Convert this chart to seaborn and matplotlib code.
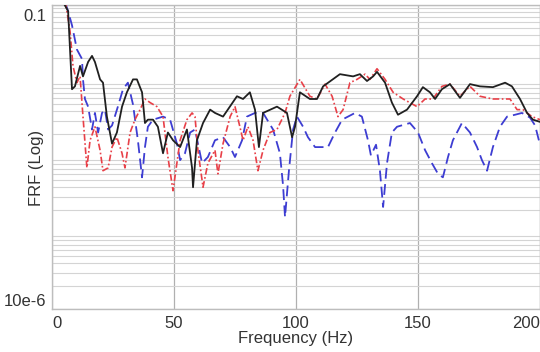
import numpy as np
import pandas as pd
import matplotlib
matplotlib.use("Agg")
import matplotlib.pyplot as plt
import matplotlib.transforms as mtransforms
import seaborn as sns

# Frequency response magnitudes for three measurement configurations
freq_solid = [4.5, 6.6, 8.2, 9.4, 11.5, 12.7, 14.8, 16.4, 17.6, 19.7, 20.9, 22.5, 24.6, 26.6,
              28.7, 30.7, 33.2, 34.8, 36.9, 38.1, 39.3, 41.4, 43.4, 45.5, 47.5, 49.6, 52.5,
              55.3, 57.4, 57.8, 59.4, 61.9, 64.8, 66.8, 70.1, 75.8, 78.3, 81.1, 83.2, 84.8,
              86.5, 92.2, 96.3, 98.4, 99.6, 101.6, 105.7, 108.6, 111.1, 118.0, 123.4, 126.2,
              129.1, 131.6, 133.2, 136.5, 139.3, 141.8, 145.5, 149.6, 152.0, 154.9, 157.0,
              159.8, 163.1, 167.2, 171.3, 175.4, 180.7, 185.7, 188.5, 191.8, 194.7, 197.1, 200.0]
frf_solid = [0.11, 0.083, 7.8e-3, 8.5e-3, 0.0158, 0.0115, 0.0178, 0.0214, 0.0178, 0.0105,
             9.5e-3, 3.4e-3, 1.5e-3, 2.1e-3, 4.6e-3, 7.1e-3, 0.0105, 0.0105, 7.1e-3, 2.8e-3,
             3.1e-3, 3.1e-3, 2.5e-3, 1.12e-3, 2.1e-3, 1.66e-3, 1.35e-3, 2.3e-3, 7.2e-4, 4.0e-4,
             1.66e-3, 2.8e-3, 4.2e-3, 3.8e-3, 3.4e-3, 6.3e-3, 5.8e-3, 7.1e-3, 4.2e-3, 1.35e-3,
             3.8e-3, 4.6e-3, 3.8e-3, 1.82e-3, 2.5e-3, 7.1e-3, 5.8e-3, 5.8e-3, 8.5e-3, 0.0123,
             0.0115, 0.0123, 0.0100, 0.0115, 0.0132, 9.5e-3, 5.2e-3, 3.6e-3, 4.2e-3, 6.3e-3,
             8.3e-3, 7.1e-3, 5.8e-3, 7.8e-3, 9.1e-3, 6.0e-3, 9.1e-3, 8.5e-3, 8.3e-3, 9.5e-3,
             8.5e-3, 5.8e-3, 3.8e-3, 3.1e-3, 2.9e-3]

freq_dashdot = [5.5, 7.4, 8.6, 10.2, 11.5, 12.7, 14.3, 15.6, 17.6, 19.7, 20.9, 23.0, 24.6,
                26.6, 28.7, 29.9, 32.0, 34.0, 36.1, 38.1, 40.2, 43.0, 45.5, 47.5, 49.6, 52.5,
                55.3, 57.4, 58.6, 59.8, 61.9, 63.9, 66.8, 68.0, 70.1, 73.0, 75.0, 77.0, 78.3,
                80.3, 82.4, 84.4, 86.5, 89.3, 92.2, 95.5, 97.5, 101.6, 105.7, 108.6, 111.9,
                114.8, 117.2, 119.3, 122.1, 125.0, 128.3, 130.3, 133.2, 136.5, 139.8, 143.9,
                149.6, 152.9, 156.1, 159.8, 163.1, 167.2, 171.3, 175.4, 180.7, 187.7, 190.6,
                193.0, 196.7, 200.0]
frf_dashdot = [0.11, 0.045, 0.0158, 9.5e-3, 0.0115, 3.4e-3, 7.2e-4, 1.66e-3, 2.5e-3, 1.23e-3,
               6.6e-4, 7.2e-4, 1.35e-3, 1.82e-3, 1.12e-3, 7.2e-4, 2.1e-3, 3.1e-3, 4.2e-3,
               5.8e-3, 5.2e-3, 4.6e-3, 3.4e-3, 1.0e-3, 3.6e-4, 1.66e-3, 3.1e-3, 3.8e-3, 3.4e-3,
               1.23e-3, 4.0e-4, 8.3e-4, 1.23e-3, 6.0e-4, 1.5e-3, 3.4e-3, 4.6e-3, 2.5e-3,
               1.66e-3, 2.5e-3, 1.66e-3, 6.6e-4, 1.23e-3, 2.1e-3, 2.3e-3, 3.8e-3, 6.3e-3,
               0.0105, 6.3e-3, 5.8e-3, 9.1e-3, 6.3e-3, 3.4e-3, 4.2e-3, 9.5e-3, 0.0105, 0.0123,
               0.0105, 0.0145, 0.0105, 7.1e-3, 5.8e-3, 4.6e-3, 5.8e-3, 5.8e-3, 8.5e-3, 9.1e-3,
               6.3e-3, 8.5e-3, 6.3e-3, 5.8e-3, 5.8e-3, 4.2e-3, 4.2e-3, 3.4e-3, 3.1e-3]

freq_dashed = [5.3, 6.6, 8.2, 10.2, 12.3, 12.7, 13.5, 14.8, 16.4, 17.6, 18.9, 20.5, 21.7,
               23.0, 24.6, 27.0, 29.1, 31.1, 33.2, 35.2, 36.9, 38.1, 39.3, 41.4, 45.5, 48.4,
               51.2, 52.5, 54.5, 56.6, 58.6, 61.5, 63.9, 66.8, 70.1, 73.0, 75.0, 77.9, 79.9,
               83.2, 86.5, 90.6, 93.4, 94.7, 95.5, 97.1, 98.8, 100.4, 102.9, 104.9, 107.8,
               110.7, 113.1, 116.0, 118.9, 124.2, 127.0, 129.5, 130.7, 132.8, 134.4, 135.7,
               137.3, 139.3, 141.4, 146.7, 150.0, 152.9, 155.7, 158.2, 160.2, 162.3, 164.3,
               168.0, 171.3, 174.2, 176.2, 178.3, 180.7, 183.6, 186.5, 189.8, 192.6, 195.9,
               198.0, 200.0]
frf_dashed = [0.11, 0.083, 0.054, 0.026, 0.0195, 0.0105, 5.8e-3, 4.6e-3, 2.3e-3, 3.8e-3,
              2.1e-3, 3.8e-3, 4.2e-3, 2.3e-3, 2.6e-3, 4.6e-3, 7.8e-3, 9.5e-3, 4.9e-3, 1.66e-3,
              5.4e-4, 1.35e-3, 2.5e-3, 3.1e-3, 3.4e-3, 3.1e-3, 1.5e-3, 9.1e-4, 1.12e-3, 2.1e-3,
              2.3e-3, 8.3e-4, 1.0e-3, 1.66e-3, 1.82e-3, 1.35e-3, 1.0e-3, 1.66e-3, 3.4e-3,
              3.8e-3, 3.8e-3, 2.3e-3, 1.12e-3, 4.2e-4, 1.62e-4, 6.6e-4, 2.3e-3, 3.4e-3, 2.5e-3,
              1.82e-3, 1.35e-3, 1.35e-3, 1.35e-3, 2.1e-3, 3.1e-3, 3.8e-3, 3.4e-3, 1.66e-3,
              1.05e-3, 1.45e-3, 6.6e-4, 2.2e-4, 8.3e-4, 2.1e-3, 2.5e-3, 2.8e-3, 2.1e-3, 1.23e-3,
              8.3e-4, 6.0e-4, 5.4e-4, 1.0e-3, 1.66e-3, 2.8e-3, 2.1e-3, 1.35e-3, 9.1e-4, 6.6e-4,
              1.35e-3, 2.5e-3, 3.4e-3, 3.6e-3, 3.8e-3, 3.3e-3, 2.6e-3, 1.45e-3]

x_ticks = [0, 50, 100, 150, 200]
y_ticks = [1e-5, 0.1]
y_tick_labels = ["10e-6", "0.1"]

sns.set_theme(style="white")
plt.rcParams["font.family"] = ["Liberation Sans", "DejaVu Sans"]

fig = plt.figure(figsize=(5.4, 3.52), dpi=100)
ax = fig.add_axes([52 / 540, 43 / 352, 488 / 540, 304 / 352])

df_solid = pd.DataFrame({"f": freq_solid, "frf": frf_solid})
df_dashdot = pd.DataFrame({"f": freq_dashdot, "frf": frf_dashdot})
df_dashed = pd.DataFrame({"f": freq_dashed, "frf": frf_dashed})

sns.lineplot(data=df_dashed, x="f", y="frf", ax=ax, color="#3d3dd2", lw=1.3,
             estimator=None, sort=False, zorder=3)
ax.lines[-1].set_dashes((6, 3))
sns.lineplot(data=df_dashdot, x="f", y="frf", ax=ax, color="#e84048", lw=1.2,
             estimator=None, sort=False, zorder=4)
ax.lines[-1].set_dashes((4, 1.5, 1, 1.5))
sns.lineplot(data=df_solid, x="f", y="frf", ax=ax, color="#202020", lw=1.3,
             estimator=None, sort=False, zorder=5)

ax.set_yscale("log")
ax.set_xlim(0, 200)
ax.set_ylim(1e-5, 0.1)

# grid: full log grid horizontally, major frequencies vertically
ax.yaxis.grid(True, which="major", color="#c8c8c8", lw=0.9)
ax.yaxis.grid(True, which="minor", color="#d4d4d4", lw=0.8)
ax.set_xticks(x_ticks)
ax.xaxis.grid(True, which="major", color="#b0b0b0", lw=0.9)
ax.set_axisbelow(True)

ax.set_yticks(y_ticks)
ax.set_yticklabels(y_tick_labels)
ax.yaxis.set_minor_formatter(matplotlib.ticker.NullFormatter())
ax.tick_params(axis="both", which="both", length=0, labelsize=12, colors="#333333")
ax.tick_params(axis="x", pad=5)
ax.tick_params(axis="y", pad=4)

xl = ax.get_xticklabels()
xl[0].set_ha("left")
xl[-1].set_ha("right")
yl = ax.get_yticklabels()
yl[0].set_va("bottom")
yl[1].set_va("top")
yl[1].set_transform(yl[1].get_transform() +
                    mtransforms.ScaledTranslation(0, -4 / 100, fig.dpi_scale_trans))

for s in ax.spines.values():
    s.set_color("#bdbdbd")
    s.set_linewidth(1.0)

ax.set_xlabel("Frequency (Hz)", fontsize=12, color="#333333")
ax.set_ylabel("FRF (Log)", fontsize=12, color="#333333")
ax.xaxis.set_label_coords(0.5, -0.072)
ax.yaxis.set_label_coords(-0.016, 0.465)

fig.savefig("out.png", dpi=100)
